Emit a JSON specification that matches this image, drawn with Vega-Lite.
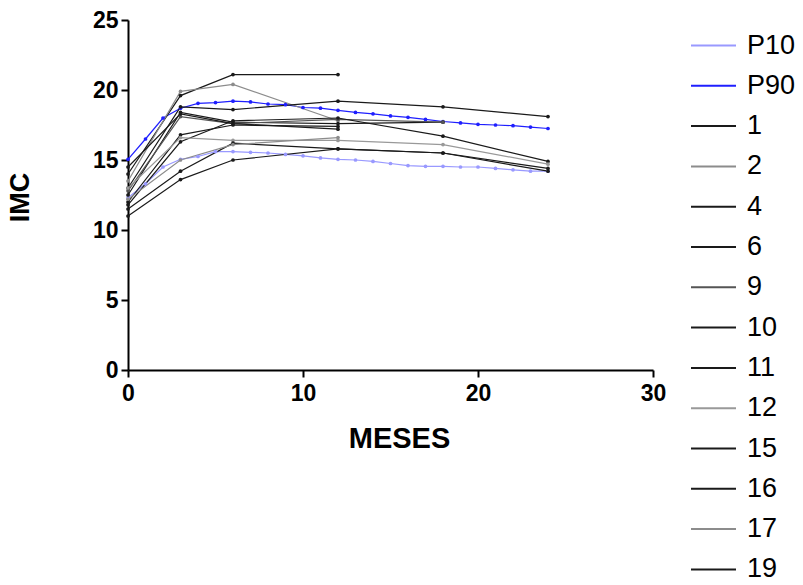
{
  "$schema": "https://vega.github.io/schema/vega-lite/v6.json",
  "width": 525,
  "height": 350,
  "autosize": "none",
  "padding": {"left": 128, "top": 20, "right": 150, "bottom": 215},
  "background": "white",
  "config": {"view": {"stroke": null}, "font": "Liberation Sans"},
  "data": {"values": [
    {"s":"P10","x":0,"y":12.3},{"s":"P10","x":1,"y":13.3},{"s":"P10","x":2,"y":14.5},{"s":"P10","x":3,"y":15.05},{"s":"P10","x":4,"y":15.25},{"s":"P10","x":5,"y":15.6},{"s":"P10","x":6,"y":15.6},{"s":"P10","x":7,"y":15.55},{"s":"P10","x":8,"y":15.5},{"s":"P10","x":9,"y":15.4},{"s":"P10","x":10,"y":15.3},{"s":"P10","x":11,"y":15.15},{"s":"P10","x":12,"y":15.05},{"s":"P10","x":13,"y":15.0},{"s":"P10","x":14,"y":14.9},{"s":"P10","x":15,"y":14.75},{"s":"P10","x":16,"y":14.6},{"s":"P10","x":17,"y":14.55},{"s":"P10","x":18,"y":14.55},{"s":"P10","x":19,"y":14.5},{"s":"P10","x":20,"y":14.5},{"s":"P10","x":21,"y":14.4},{"s":"P10","x":22,"y":14.3},{"s":"P10","x":23,"y":14.2},{"s":"P10","x":24,"y":14.2},
    {"s":"P90","x":0,"y":15.05},{"s":"P90","x":1,"y":16.5},{"s":"P90","x":2,"y":18.0},{"s":"P90","x":3,"y":18.7},{"s":"P90","x":4,"y":19.05},{"s":"P90","x":5,"y":19.1},{"s":"P90","x":6,"y":19.2},{"s":"P90","x":7,"y":19.15},{"s":"P90","x":8,"y":19.0},{"s":"P90","x":9,"y":18.95},{"s":"P90","x":10,"y":18.75},{"s":"P90","x":11,"y":18.7},{"s":"P90","x":12,"y":18.55},{"s":"P90","x":13,"y":18.4},{"s":"P90","x":14,"y":18.3},{"s":"P90","x":15,"y":18.15},{"s":"P90","x":16,"y":18.05},{"s":"P90","x":17,"y":17.9},{"s":"P90","x":18,"y":17.75},{"s":"P90","x":19,"y":17.65},{"s":"P90","x":20,"y":17.55},{"s":"P90","x":21,"y":17.5},{"s":"P90","x":22,"y":17.45},{"s":"P90","x":23,"y":17.35},{"s":"P90","x":24,"y":17.25},
    {"s":"1","x":0,"y":14.0},{"s":"1","x":3,"y":19.6},{"s":"1","x":6,"y":21.1},{"s":"1","x":12,"y":21.1},
    {"s":"2","x":0,"y":13.5},{"s":"2","x":3,"y":19.9},{"s":"2","x":6,"y":20.4},{"s":"2","x":12,"y":17.8},
    {"s":"4","x":0,"y":13.0},{"s":"4","x":3,"y":18.8},{"s":"4","x":6,"y":18.6},{"s":"4","x":12,"y":19.2},{"s":"4","x":18,"y":18.8},{"s":"4","x":24,"y":18.1},
    {"s":"6","x":0,"y":12.5},{"s":"6","x":3,"y":18.4},{"s":"6","x":6,"y":17.7},{"s":"6","x":12,"y":17.6},{"s":"6","x":18,"y":17.7},
    {"s":"9","x":0,"y":12.8},{"s":"9","x":3,"y":18.1},{"s":"9","x":6,"y":17.6},{"s":"9","x":12,"y":17.9},{"s":"9","x":18,"y":17.7},
    {"s":"10","x":0,"y":12.0},{"s":"10","x":3,"y":16.8},{"s":"10","x":6,"y":17.5},{"s":"10","x":12,"y":17.4},
    {"s":"11","x":0,"y":11.8},{"s":"11","x":3,"y":16.3},{"s":"11","x":6,"y":17.8},{"s":"11","x":12,"y":18.0},{"s":"11","x":18,"y":16.7},{"s":"11","x":24,"y":14.9},
    {"s":"12","x":0,"y":13.0},{"s":"12","x":3,"y":16.6},{"s":"12","x":6,"y":16.4},{"s":"12","x":12,"y":16.4},{"s":"12","x":18,"y":16.1},{"s":"12","x":24,"y":14.7},
    {"s":"15","x":0,"y":11.5},{"s":"15","x":3,"y":14.2},{"s":"15","x":6,"y":16.2},{"s":"15","x":12,"y":15.8},{"s":"15","x":18,"y":15.5},{"s":"15","x":24,"y":14.2},
    {"s":"16","x":0,"y":11.0},{"s":"16","x":3,"y":13.6},{"s":"16","x":6,"y":15.0},{"s":"16","x":12,"y":15.8},{"s":"16","x":18,"y":15.5},{"s":"16","x":24,"y":14.4},
    {"s":"17","x":0,"y":12.2},{"s":"17","x":3,"y":15.0},{"s":"17","x":6,"y":16.1},{"s":"17","x":12,"y":16.6},
    {"s":"19","x":0,"y":14.5},{"s":"19","x":3,"y":18.3},{"s":"19","x":6,"y":17.6},{"s":"19","x":12,"y":17.2}
  ]},
  "mark": {"type": "line", "strokeWidth": 1.2, "point": {"filled": true, "size": 14}},
  "encoding": {
    "x": {"field": "x", "type": "quantitative", "scale": {"domain": [0, 30], "nice": false},
      "axis": {"values": [0, 10, 20, 30], "title": "MESES", "grid": false, "domainColor": "black", "domainWidth": 2, "tickColor": "black", "tickWidth": 2, "tickSize": 7, "labelFlush": false,
        "labelFont": "Liberation Sans", "labelFontWeight": "bold", "labelFontSize": 23, "labelColor": "black", "labelPadding": 5,
        "titleFont": "Liberation Sans", "titleFontWeight": "bold", "titleFontSize": 29, "titleColor": "black", "titleX": 271, "titleY": 77, "titleBaseline": "alphabetic"}},
    "y": {"field": "y", "type": "quantitative", "scale": {"domain": [0, 25], "nice": false},
      "axis": {"values": [0, 5, 10, 15, 20, 25], "title": "IMC", "grid": false, "domainColor": "black", "domainWidth": 2, "tickColor": "black", "tickWidth": 2, "tickSize": 7,
        "labelFont": "Liberation Sans", "labelFontWeight": "bold", "labelFontSize": 23, "labelColor": "black", "labelPadding": 3,
        "titleFont": "Liberation Sans", "titleFontWeight": "bold", "titleFontSize": 27, "titleColor": "black", "titleX": -108, "titleY": 177, "titleBaseline": "middle"}},
    "color": {"field": "s", "type": "nominal",
      "scale": {"domain": ["P10","P90","1","2","4","6","9","10","11","12","15","16","17","19"],
        "range": ["#9999ff","#1f1fff","#1a1a1a","#8c8c8c","#1a1a1a","#1a1a1a","#555555","#1a1a1a","#1a1a1a","#999999","#1a1a1a","#1a1a1a","#8c8c8c","#1a1a1a"]},
      "legend": {"title": null, "orient": "none", "legendX": 562, "legendY": 2, "symbolType": "stroke", "symbolSize": 2025, "symbolStrokeWidth": 2, "rowPadding": 3.3,
        "labelFont": "Liberation Sans", "labelFontSize": 27, "labelColor": "black", "labelOffset": 10}}
  }
}
